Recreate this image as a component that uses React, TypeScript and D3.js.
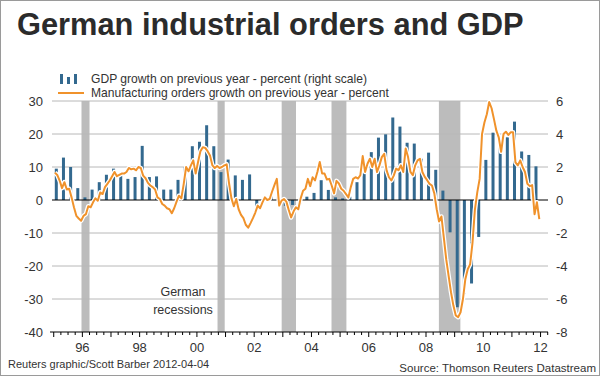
import React from "react";
import * as d3 from "d3";

const TITLE = "German industrial orders and GDP";
const LEGEND_GDP = "GDP growth on previous year - percent (right scale)";
const LEGEND_ORDERS = "Manufacturing orders growth on previous year - percent";
const CREDIT = "Reuters graphic/Scott Barber 2012-04-04";
const SOURCE = "Source: Thomson Reuters Datastream";
const ANNOTATION = ["German", "recessions"];

const LEFT_TICKS = [30, 20, 10, 0, -10, -20, -30, -40];
const RIGHT_TICKS = [6, 4, 2, 0, -2, -4, -6, -8];
const YEAR_LABELS = [1996, 1998, 2000, 2002, 2004, 2006, 2008, 2010, 2012];

// recession periods (decimal years)
const RECESSION_START = [1995.97, 2000.72, 2002.96, 2004.7, 2008.45];
const RECESSION_END = [1996.25, 2000.97, 2003.46, 2005.22, 2009.2];

// GDP growth y/y, quarterly from 1995Q1 (right scale)
const GDP_START_YEAR = 1995;
const GDP_VALUES = [
  1.9, 2.57, 2.0, 0.72,
  0.16, 0.63, 1.08, 1.53,
  1.9, 1.63, 1.28, 1.39,
  3.28, 1.39, 1.43, 0.63,
  0.63, 1.22, 2.0, 3.26,
  3.53, 4.53, 3.26, 1.69,
  2.45, 1.49, 1.22, 1.55,
  -0.41, 0.05, 0.3, 0.2,
  -0.35, -0.3, -0.25, 0.2,
  0.43, 1.2, 0.61, 0.16,
  0.1, 0.2, 1.08, 1.7,
  2.9, 3.78, 3.98, 5.0,
  4.45, 3.47, 3.42, 2.5,
  2.87, 1.83, 0.57, -1.96,
  -6.5, -5.7, -5.06, -2.24,
  2.43, 4.08, 3.2, 3.8,
  4.75, 2.94, 2.73, 2.04,
];

// Manufacturing orders y/y, monthly from Jan 1995 (left scale)
const ORDERS_START_YEAR = 1995;
const ORDERS_VALUES = [
  // 1995
  8.3, 7.6, 5.9, 3.6, 5.4, 3.2, 3.4, 0.8, -2.2, -4.8, -5.6, -6.3,
  // 1996
  -4.8, -4.3, -1.9, -2.2, -0.7, 0.5, -0.2, 2.3, 1.8, 3.9, 4.9, 5.9,
  // 1997
  7.2, 8.5, 7.2, 7.6, 8.0, 8.0, 8.5, 9.7, 9.3, 9.5, 9.0, 10.0,
  // 1998
  9.7, 7.4, 6.6, 5.2, 4.4, 3.9, 3.2, 0.8, 0.3, -1.2, -1.7, -2.5,
  // 1999
  -2.8, -4.0, -2.5, -0.5, 1.3, 0.5, 4.9, 10.0, 8.7, 10.5, 12.0, 8.0,
  // 2000
  11.5, 14.8, 16.0, 15.8, 14.8, 13.5, 10.5, 9.7, 10.3, 9.7, 10.0, 10.5,
  // 2001
  10.8, 5.0, 0.5, -1.9, 0.3, -2.8, -4.5, -5.5, -7.5, -8.4, -7.0, -5.5,
  // 2002
  -3.8, -1.7, -2.5, -0.7, 0.8, 0.0, 0.3, 2.5, 4.5, 6.4, -1.7, -0.2,
  // 2003
  0.3, -0.5, -3.0, -5.3, -3.5, -2.2, -2.8, 0.5, 2.8, 3.4, 6.4, 4.2,
  // 2004
  6.9, 5.9, 8.5, 11.5, 8.0, 8.0, 6.2, 6.4, 4.4, 2.0, 5.8, 5.0,
  // 2005
  3.4, 2.8, 1.8, 0.8, 3.9, 6.4, 6.9, 6.5, 7.5, 13.3, 8.5, 11.0,
  // 2006
  12.5, 10.0, 12.5, 8.5, 10.5, 13.0, 14.0, 9.0, 6.9, 5.9, 7.4, 9.5,
  // 2007
  9.0, 10.5, 8.5, 15.6, 13.0, 8.5, 7.5, 10.5, 12.0, 12.5, 8.5, 7.0,
  // 2008
  6.0, 4.9, 4.4, 2.0, -2.8, -6.5, -5.0, -11.5, -18.0, -23.0, -28.0, -32.0,
  // 2009
  -35.0, -35.5, -34.0, -30.0, -24.0, -21.0, -19.5, -13.0, -3.0, 2.3, 6.4, 20.0,
  // 2010
  23.5, 26.0, 29.7, 27.8, 24.5, 21.0, 19.0, 14.6, 20.0, 20.7, 19.7, 20.5,
  // 2011
  20.5, 11.4, 10.5, 12.0, 10.0, 8.5, 4.9, 4.2, 4.5, -4.3, -0.7, -5.8,
];

const W = 600;
const H = 376;
const FONT = "'Liberation Sans', Arial, Helvetica, sans-serif";
const TEXT = "#333333";

export default function App() {
  const x = d3.scaleLinear().domain([1994.87, 2012.26]).range([50, 548]);
  const yL = d3.scaleLinear().domain([-40, 30]).range([332, 101]);
  const yR = d3.scaleLinear().domain([-8, 6]).range([332, 101]);

  const gdp = GDP_VALUES.map((v, i) => ({ t: GDP_START_YEAR + i / 4 + 0.09, v }));
  const orders = ORDERS_VALUES.map((v, i) => ({ t: ORDERS_START_YEAR + i / 12 + 0.04, v }));

  const line = d3
    .line<{ t: number; v: number }>()
    .x((d) => x(d.t))
    .y((d) => yL(d.v));
  const path = line(orders) || "";

  const [x0, x1] = x.range();
  const quarterTicks = d3.range(1995, 2012.26, 0.25);
  const barW = 3;

  return (
    <svg
      width={W}
      height={H}
      style={{ position: "absolute", left: 0, top: 0, background: "#fff" }}
      fontFamily={FONT}
    >
      <rect x={0.5} y={0.5} width={W - 1} height={H - 1} fill="#fff" stroke="#9a9a9a" />
      <text x={17} y={35} fontSize={30.8} fontWeight="bold" fill="#2b2b2b">
        {TITLE}
      </text>

      {/* legend */}
      <g>
        {[0, 1, 2].map((k) => (
          <rect
            key={k}
            x={60 + k * 7}
            y={k === 1 ? 77 : 74}
            width={3}
            height={k === 1 ? 7 : 10}
            fill="#33698f"
          />
        ))}
        <text x={91} y={83} fontSize={12.1} fill={TEXT}>
          {LEGEND_GDP}
        </text>
        <line x1={58} x2={84} y1={93} y2={93} stroke="#f0922b" strokeWidth={2} />
        <text x={91} y={97} fontSize={12.1} fill={TEXT}>
          {LEGEND_ORDERS}
        </text>
      </g>

      {/* recession shading */}
      {RECESSION_START.map((s, i) => (
        <rect
          key={i}
          x={x(s)}
          y={yL(30)}
          width={x(RECESSION_END[i]) - x(s)}
          height={yL(-40) - yL(30)}
          fill="#bcbcbc"
        />
      ))}

      {/* gridlines */}
      {LEFT_TICKS.filter((t) => t !== 0 && t !== -40).map((t) => (
        <line key={t} x1={52} x2={x1} y1={yL(t)} y2={yL(t)} stroke="#b8b8b8" strokeWidth={1} />
      ))}

      {/* GDP bars */}
      {gdp.map((d, i) => (
        <rect
          key={i}
          x={x(d.t) - barW / 2}
          y={Math.min(yR(d.v), yR(0))}
          width={barW}
          height={Math.abs(yR(d.v) - yR(0))}
          fill="#33698f"
        />
      ))}

      {/* zero line */}
      <line x1={52} x2={x1} y1={yL(0)} y2={yL(0)} stroke="#000" strokeWidth={1.2} />

      {/* orders line */}
      <path d={path} fill="none" stroke="#fff" strokeWidth={4.5} strokeLinejoin="round" />
      <path d={path} fill="none" stroke="#f0922b" strokeWidth={2} strokeLinejoin="round" />

      {/* x axis */}
      <line x1={x0} x2={x1} y1={yL(-40)} y2={yL(-40)} stroke="#000" strokeWidth={1} />
      {quarterTicks.map((t) => (
        <line
          key={t}
          x1={x(t)}
          x2={x(t)}
          y1={yL(-40)}
          y2={yL(-40) + (Math.abs(t - Math.round(t)) < 0.01 ? 5 : 3)}
          stroke="#000"
          strokeWidth={1}
        />
      ))}
      {YEAR_LABELS.map((yr) => (
        <text key={yr} x={x(yr)} y={352} fontSize={13} textAnchor="middle" fill={TEXT}>
          {String(yr % 100).padStart(2, "0")}
        </text>
      ))}

      {/* left axis labels */}
      {LEFT_TICKS.map((t) => (
        <text key={t} x={43} y={yL(t) + 4.5} fontSize={13} textAnchor="end" fill={TEXT}>
          {t}
        </text>
      ))}
      {/* right axis labels */}
      {RIGHT_TICKS.map((t) => (
        <text key={t} x={556} y={yR(t) + 4.5} fontSize={13} fill={TEXT}>
          {t}
        </text>
      ))}

      {/* annotation */}
      {ANNOTATION.map((s, i) => (
        <text key={s} x={183} y={296 + i * 18} fontSize={12.5} textAnchor="middle" fill={TEXT}>
          {s}
        </text>
      ))}

      {/* footer */}
      <text x={8} y={368} fontSize={11} fill={TEXT}>
        {CREDIT}
      </text>
      <text x={596} y={372} fontSize={11.5} textAnchor="end" fill={TEXT}>
        {SOURCE}
      </text>
    </svg>
  );
}
